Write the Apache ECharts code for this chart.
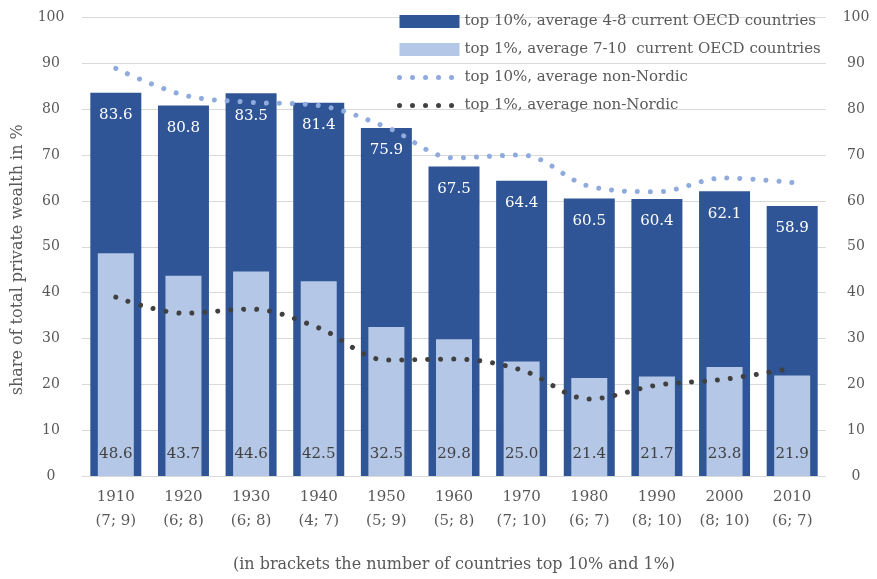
<!DOCTYPE html>
<html>
<head>
<meta charset="utf-8">
<script src="https://cdn.jsdelivr.net/npm/echarts@6/dist/echarts.min.js"></script>
<style>html,body{margin:0;padding:0;background:#fff}#c{width:877px;height:579px}</style>
</head>
<body>
<div id="c"></div>
<script>
const years = ['1910','1920','1930','1940','1950','1960','1970','1980','1990','2000','2010'];
const counts = ['(7; 9)','(6; 8)','(6; 8)','(4; 7)','(5; 9)','(5; 8)','(7; 10)','(6; 7)','(8; 10)','(8; 10)','(6; 7)'];
const top10 = [83.6, 80.8, 83.5, 81.4, 75.9, 67.5, 64.4, 60.5, 60.4, 62.1, 58.9];
const top1 = [48.6, 43.7, 44.6, 42.5, 32.5, 29.8, 25.0, 21.4, 21.7, 23.8, 21.9];
const top10NonNordic = [88.9, 83.1, 81.5, 80.8, 76.1, 69.4, 70.0, 63.2, 62.0, 65.0, 64.0];
const top1NonNordic = [39.0, 35.5, 36.4, 32.3, 25.3, 25.5, 23.1, 16.8, 19.8, 21.1, 23.5];
const yTicks = [0,10,20,30,40,50,60,70,80,90,100];

const FONT = 'DejaVu Serif';
const GRAY = '#595959';
const categories = years.map((y, i) => y + '\n' + counts[i]);

const chart = echarts.init(document.getElementById('c'), null, {renderer: 'canvas'});
const yAxisBase = {
  type: 'value', min: yTicks[0], max: yTicks[yTicks.length - 1], interval: yTicks[1] - yTicks[0],
  axisLine: {show: false}, axisTick: {show: false},
  axisLabel: {color: GRAY, fontFamily: FONT, fontSize: 14, align: 'center', margin: 31},
};
const dotLine = {width: 5, type: [0.01, 13], cap: 'round'};
chart.setOption({
  animation: false,
  grid: {left: 82, right: 51, top: 17.5, bottom: 103},
  legend: {
    orient: 'vertical', left: 392, top: 9, itemWidth: 60, itemHeight: 13, itemGap: 13,
    textStyle: {color: GRAY, fontFamily: FONT, fontSize: 15},
    data: [
      {name: 'top 10%, average 4-8 current OECD countries', icon: 'rect'},
      {name: 'top 1%, average 7-10  current OECD countries', icon: 'rect'},
      {name: 'top 10%, average non-Nordic', itemStyle: {opacity: 0},
        lineStyle: Object.assign({color: '#8FAADC'}, dotLine)},
      {name: 'top 1%, average non-Nordic', itemStyle: {opacity: 0},
        lineStyle: Object.assign({color: '#404040'}, dotLine)}
    ]
  },
  xAxis: [{
    type: 'category', data: categories,
    axisLine: {show: false}, axisTick: {show: false},
    axisLabel: {color: GRAY, fontFamily: FONT, fontSize: 15, lineHeight: 24, margin: 9, interval: 0},
    name: '(in brackets the number of countries top 10% and 1%)',
    nameLocation: 'middle', nameGap: 81,
    nameTextStyle: {color: GRAY, fontFamily: FONT, fontSize: 16}
  }, {
    type: 'category', data: categories, show: false
  }],
  yAxis: [Object.assign({}, yAxisBase, {
    name: 'share of total private wealth in %', nameLocation: 'middle', nameGap: 56,
    nameTextStyle: {color: GRAY, fontFamily: FONT, fontSize: 16, padding: [0, 26, 0, 0]},
    splitLine: {lineStyle: {color: '#d9d9d9', width: 1}}
  }), Object.assign({}, yAxisBase, {
    position: 'right', axisLabel: Object.assign({}, yAxisBase.axisLabel, {margin: 30}),
    splitLine: {show: false}
  })],
  series: [{
    name: 'top 10%, average 4-8 current OECD countries', type: 'bar',
    xAxisIndex: 0, yAxisIndex: 0, data: top10, barWidth: 51,
    itemStyle: {color: '#2F5597'},
    label: {show: true, position: 'insideTop', distance: 15, color: '#ffffff',
      fontFamily: FONT, fontSize: 15, formatter: p => p.value.toFixed(1)}
  }, {
    name: 'top 1%, average 7-10  current OECD countries', type: 'bar',
    xAxisIndex: 1, yAxisIndex: 0, data: top1, barWidth: 36,
    itemStyle: {color: '#B4C7E7'},
    label: {show: true, position: 'insideBottom', distance: 14, color: '#404040',
      fontFamily: FONT, fontSize: 15, formatter: p => p.value.toFixed(1)}
  }, {
    name: 'top 10%, average non-Nordic', type: 'line', xAxisIndex: 0, yAxisIndex: 0,
    data: top10NonNordic, smooth: 0.35, symbol: 'none', z: 5,
    itemStyle: {color: '#8FAADC'},
    lineStyle: Object.assign({color: '#8FAADC'}, dotLine)
  }, {
    name: 'top 1%, average non-Nordic', type: 'line', xAxisIndex: 0, yAxisIndex: 0,
    data: top1NonNordic, smooth: 0.35, symbol: 'none', z: 5,
    itemStyle: {color: '#404040'},
    lineStyle: Object.assign({color: '#404040'}, dotLine)
  }]
});
</script>
</body>
</html>
